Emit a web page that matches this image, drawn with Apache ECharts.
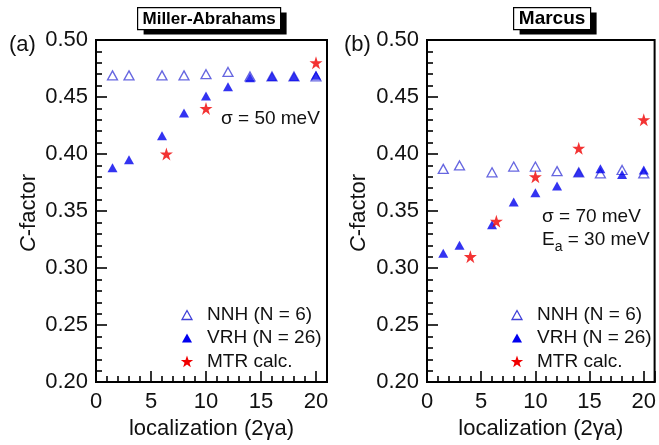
<!DOCTYPE html>
<html>
<head>
<meta charset="utf-8">
<script src="https://cdn.jsdelivr.net/npm/echarts@6/dist/echarts.min.js"></script>
<style>
  html, body { margin: 0; padding: 0; background: #fff; }
  #chart { width: 659px; height: 445px; }
</style>
</head>
<body>
<div id="chart"></div>
<script>
// Localization lengths (2γa) sampled by the hopping simulations
const locX = [1.5, 3, 6, 8, 10, 12, 14, 16, 18, 20];

// (a) Miller-Abrahams rates, sigma = 50 meV
const nnhMA = [0.469, 0.469, 0.469, 0.469, 0.470, 0.472, 0.468, 0.468, 0.468, 0.468];
const vrhMA = [0.388, 0.395, 0.416, 0.436, 0.451, 0.459, 0.467, 0.468, 0.468, 0.469];
const mtrXMA = [6.4, 10, 20];
const mtrMA = [0.400, 0.440, 0.480];

// (b) Marcus rates, sigma = 70 meV, Ea = 30 meV
const nnhMarcus = [0.387, 0.390, 0.384, 0.389, 0.389, 0.385, 0.384, 0.383, 0.386, 0.383];
const vrhMarcus = [0.313, 0.320, 0.338, 0.358, 0.366, 0.372, 0.384, 0.387, 0.382, 0.386];
const mtrXMarcus = [4, 6.4, 10, 14, 20];
const mtrMarcus = [0.310, 0.341, 0.380, 0.405, 0.430];

const xTicks = [0, 5, 10, 15, 20];
const yTicks = [0.20, 0.25, 0.30, 0.35, 0.40, 0.45, 0.50];

const seriesNames = ['NNH (N = 6)', 'VRH (N = 26)', 'MTR calc.'];
const panelTitles = ['Miller-Abrahams', 'Marcus'];
const panelTags = ['(a)', '(b)'];

const FONT = '"Liberation Sans", Arial, sans-serif';
const STAR = 'path://M50,0 L61.2,34.5 L97.6,34.5 L68.2,55.9 L79.4,90.5 L50,69.1 L20.6,90.5 L31.8,55.9 L2.4,34.5 L38.8,34.5 Z';
const OPEN_BLUE = '#4040d8';
const BLUE = '#0000ee';
const RED = '#f00000';

const pair = (xs, ys) => xs.map((x, i) => [x, ys[i]]);

function makeX(gridIndex) {
  return {
    type: 'value', gridIndex, min: 0, max: 21, interval: 5,
    name: 'localization (2γa)', nameLocation: 'middle', nameGap: 34,
    nameTextStyle: { fontFamily: FONT, fontSize: 22, color: '#111' },
    axisLine: { show: true, lineStyle: { color: '#000', width: 2 } },
    axisTick: { show: true, inside: true, length: 11, lineStyle: { color: '#000', width: 1.6 } },
    minorTick: { show: true, splitNumber: 5, length: 6, lineStyle: { color: '#000', width: 1.6 } },
    axisLabel: {
      fontFamily: FONT, fontSize: 22, color: '#111', margin: 9,
      formatter: v => (xTicks.indexOf(v) >= 0 ? String(v) : '')
    },
    splitLine: { show: false }
  };
}

function makeY(gridIndex) {
  return {
    type: 'value', gridIndex, min: 0.2, max: 0.5, interval: 0.05,
    axisLine: { show: true, lineStyle: { color: '#000', width: 2 } },
    axisTick: { show: true, inside: true, length: 11, lineStyle: { color: '#000', width: 1.6 } },
    minorTick: { show: true, splitNumber: 5, length: 6, lineStyle: { color: '#000', width: 1.6 } },
    axisLabel: {
      fontFamily: FONT, fontSize: 22, color: '#111', margin: 8,
      formatter: v => v.toFixed(2)
    },
    splitLine: { show: false }
  };
}

function panelSeries(idx, nnh, vrh, mtrX, mtr) {
  return [
    {
      name: seriesNames[0], type: 'scatter', xAxisIndex: idx, yAxisIndex: idx,
      symbol: 'triangle', symbolSize: [10, 9],
      itemStyle: { color: '#fff', borderColor: OPEN_BLUE, borderWidth: 1.3 },
      data: pair(locX, nnh)
    },
    {
      name: seriesNames[1], type: 'scatter', xAxisIndex: idx, yAxisIndex: idx,
      symbol: 'triangle', symbolSize: [10, 9],
      itemStyle: { color: BLUE },
      data: pair(locX, vrh)
    },
    {
      name: seriesNames[2], type: 'scatter', xAxisIndex: idx, yAxisIndex: idx,
      symbol: STAR, symbolSize: 13,
      itemStyle: { color: RED },
      data: pair(mtrX, mtr)
    }
  ];
}

// Five-pointed star outline for the key
function starPoints(r, ri) {
  const pts = [];
  for (let k = 0; k < 10; k++) {
    const rad = k % 2 === 0 ? r : ri;
    const a = -Math.PI / 2 + k * Math.PI / 5;
    pts.push([rad * Math.cos(a), rad * Math.sin(a)]);
  }
  return pts;
}

// Key with marker samples and series names, one per panel
function keyBox(mx, tx) {
  const rows = [315, 338, 362];
  const tri = [[-5, 4.5], [5, 4.5], [0, -4.5]];
  const icons = [
    { type: 'polygon', x: mx, y: rows[0], shape: { points: tri }, style: { fill: '#fff', stroke: OPEN_BLUE, lineWidth: 1.3 } },
    { type: 'polygon', x: mx, y: rows[1], shape: { points: tri }, style: { fill: BLUE } },
    { type: 'polygon', x: mx, y: rows[2], shape: { points: starPoints(6.5, 2.6) }, style: { fill: RED } }
  ];
  const texts = seriesNames.map((n, i) => ({
    type: 'text', x: tx, y: rows[i],
    style: { text: n, fontFamily: FONT, fontSize: 19, fill: '#111', verticalAlign: 'middle' }
  }));
  return icons.concat(texts);
}

function titleBox(x, w, text, size) {
  return {
    type: 'group', left: x, top: 7,
    children: [
      { type: 'rect', shape: { x: 6, y: 5, width: w, height: 22 }, style: { fill: '#000' } },
      { type: 'rect', shape: { x: 0, y: 0, width: w, height: 22 }, style: { fill: '#fff', stroke: '#000', lineWidth: 1.2 } },
      {
        type: 'text', x: w / 2, y: 11.5,
        style: { text, fontFamily: FONT, fontWeight: 'bold', fontSize: size, fill: '#000', align: 'center', verticalAlign: 'middle' }
      }
    ]
  };
}

// Vertical "C-factor" axis title with an italic C
function yTitle(cx) {
  return {
    type: 'text', x: cx, y: 213, rotation: Math.PI / 2,
    style: {
      text: '{i|C}{n|-factor}', align: 'center', verticalAlign: 'middle',
      rich: {
        i: { fontFamily: FONT, fontSize: 22, fontStyle: 'italic', fill: '#111' },
        n: { fontFamily: FONT, fontSize: 22, fill: '#111' }
      }
    }
  };
}

const chart = echarts.init(document.getElementById('chart'), null, { renderer: 'canvas' });

chart.setOption({
  backgroundColor: '#fff',
  animation: false,
  grid: [
    { left: 96, top: 40, width: 231, height: 346, show: true, borderColor: '#000', borderWidth: 2, backgroundColor: 'transparent' },
    { left: 427, top: 40, width: 230, height: 346, show: true, borderColor: '#000', borderWidth: 2, backgroundColor: 'transparent' }
  ],
  xAxis: [makeX(0), makeX(1)],
  yAxis: [makeY(0), makeY(1)],
  series: [
    ...panelSeries(0, nnhMA, vrhMA, mtrXMA, mtrMA),
    ...panelSeries(1, nnhMarcus, vrhMarcus, mtrXMarcus, mtrMarcus)
  ],
  graphic: [
    titleBox(137, 143, panelTitles[0], 17),
    titleBox(513, 77, panelTitles[1], 19),
    yTitle(29),
    yTitle(359),
    ...keyBox(187, 207),
    ...keyBox(517, 537),
    { type: 'text', left: 9, top: 34, style: { text: panelTags[0], fontFamily: FONT, fontSize: 22, fill: '#111' } },
    { type: 'text', left: 344, top: 34, style: { text: panelTags[1], fontFamily: FONT, fontSize: 22, fill: '#111' } },
    { type: 'text', left: 221, top: 109, style: { text: 'σ = 50 meV', fontFamily: FONT, fontSize: 19, fill: '#111' } },
    { type: 'text', left: 542, top: 207, style: { text: 'σ = 70 meV', fontFamily: FONT, fontSize: 19, fill: '#111' } },
    {
      type: 'text', left: 542, top: 230,
      style: {
        text: '{m|E}{s|a}{m| = 30 meV}',
        rich: {
          m: { fontFamily: FONT, fontSize: 19, fill: '#111', verticalAlign: 'top' },
          s: { fontFamily: FONT, fontSize: 14, fill: '#111', padding: [10, 0, 0, 0] }
        }
      }
    }
  ]
});
</script>
</body>
</html>
